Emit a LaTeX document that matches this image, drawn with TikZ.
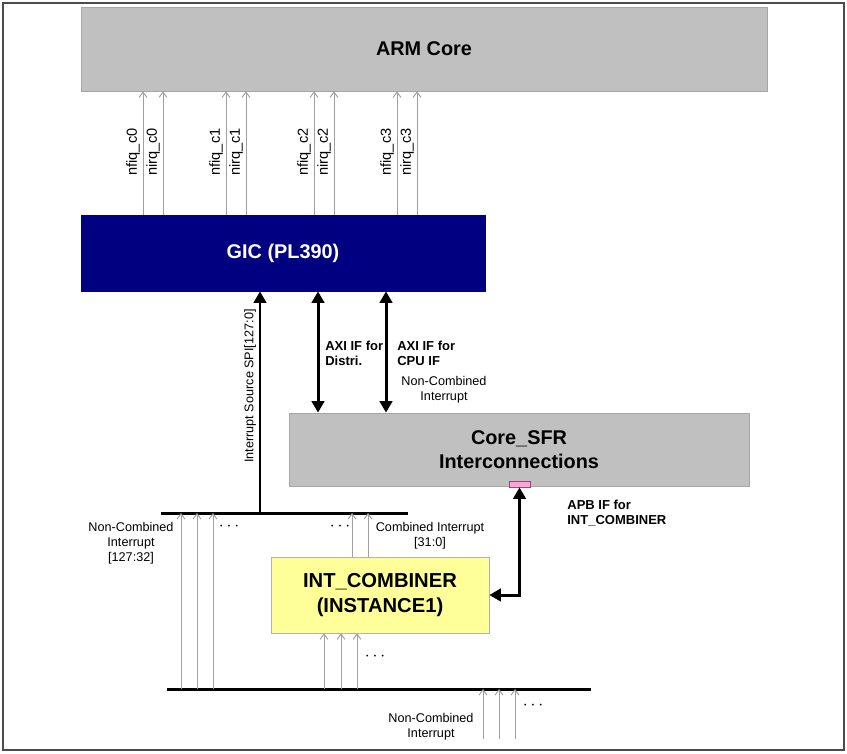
\documentclass[tikz,border=0pt]{standalone}
\usepackage{fontspec}
\setmainfont{Liberation Sans}
\usetikzlibrary{arrows.meta}
\definecolor{boxgray}{HTML}{C0C0C0}
\definecolor{boxedge}{HTML}{A6A6A6}
\definecolor{gicblue}{HTML}{000080}
\definecolor{combyellow}{HTML}{FFFF99}
\definecolor{wiregray}{HTML}{A0A0A0}
\tikzset{
	blk/.style={draw=boxedge, fill=boxgray, inner sep=0pt, align=center,
		font=\bfseries\fontsize{11.3}{13.5}\selectfont},
	sig/.style={draw=wiregray, line width=0.55pt, -{Straight Barb[length=3pt,width=4.5pt]}},
	bus/.style={line width=1.7pt, black},
	fat/.style={line width=1.7pt, -{Triangle[length=6.5pt,width=7pt]}},
	fatboth/.style={line width=1.7pt, {Triangle[length=6.5pt,width=7pt]}-{Triangle[length=6.5pt,width=7pt]}},
	lbl/.style={font=\fontsize{7.2}{8.5}\selectfont, align=center, inner sep=1pt},
	dots/.style={font=\bfseries\fontsize{10}{10}\selectfont, inner sep=0pt},
	pinlbl/.style={font=\fontsize{8.3}{9}\selectfont, inner sep=1.5pt, rotate=90, anchor=south},
	blbl/.style={font=\bfseries\fontsize{7.4}{8.2}\selectfont, align=left, inner sep=0pt, anchor=north west},
}

\begin{document}
\begin{tikzpicture}[x=0.02cm, y=-0.02cm]
	\useasboundingbox (0,0) rectangle (847,753);
	\draw[gray!60!black, line width=0.9pt] (3,3) rectangle (844,750);

	\node[blk, minimum width=13.72cm, minimum height=1.68cm] (arm) at (424,49) {ARM Core};
	\node[blk, draw=gicblue, fill=gicblue, text=white, minimum width=8.08cm, minimum height=1.52cm] (gic) at (283,253) {GIC (PL390)};
	\node[blk, minimum width=9.2cm, minimum height=1.46cm] (sfr) at (519,449.5) {Core\_SFR\\Interconnections};
	\node[blk, draw=gray!60, fill=combyellow, minimum width=4.36cm, minimum height=1.52cm,
		font=\bfseries\fontsize{11.5}{14.5}\selectfont] (comb) at (380,595) {INT\_COMBINER\\(INSTANCE1)};
	\node[draw=magenta!60!black, fill=magenta!35, line width=0.4pt, minimum width=0.42cm, minimum height=0.12cm, inner sep=0pt] (apb) at (519.5,484) {};

	\foreach \x/\t in {143/nfiq\_c0, 163/nirq\_c0, 226/nfiq\_c1, 246/nirq\_c1, 314/nfiq\_c2, 334/nirq\_c2, 397/nfiq\_c3, 417/nirq\_c3} {
		\coordinate (p\x) at (\x,0);
		\draw[sig] (gic.north -| p\x) -- (arm.south -| p\x);
		\node[pinlbl] (l\x) at (\x,152) {\t};
	}

	\coordinate (b1w) at (161,513);
	\coordinate (b1e) at (408,513);
	\coordinate (b2w) at (167,689);
	\coordinate (b2e) at (591,689);
	\draw[bus] (b1w) -- (b1e);
	\draw[bus] (b2w) -- (b2e);

	\coordinate (spi) at (260,513);
	\draw[fat] (spi) -- (spi |- gic.south);
	\node[lbl, rotate=90, anchor=south] (spil) at (258,386) {Interrupt Source SPI[127:0]};

	\coordinate (axd) at (318,0);
	\coordinate (axc) at (386,0);
	\draw[fatboth] (gic.south -| axd) -- (sfr.north -| axd);
	\draw[fatboth] (gic.south -| axc) -- (sfr.north -| axc);
	\node[blbl] (axdl) at (325,341) {AXI IF for\\Distri.};
	\node[blbl] (axcl) at (397,341) {AXI IF for\\CPU IF};
	\node[lbl] (ncmid) at (444,390) {Non-Combined\\Interrupt};

	\draw[fatboth] (apb.south) |- (comb.east);
	\node[blbl] (apbl) at (567,500) {APB IF for\\INT\_COMBINER};

	\foreach \x in {181,197,213}
		\draw[sig] (b2w -| \x,0) -- (b1w -| \x,0);
	\foreach \x in {352,368}
		\draw[sig] (comb.north -| \x,0) -- (b1w -| \x,0);
	\foreach \x in {324,341,357}
		\draw[sig] (b2w -| \x,0) -- (comb.south -| \x,0);
	\foreach \x in {483,499,515}
		\draw[sig] (\x,739) -- (b2w -| \x,0);

	\node[dots] (d1) at (229,527) {$\cdots$};
	\node[dots] (d2) at (340,527) {$\cdots$};
	\node[dots] (d3) at (375,657) {$\cdots$};
	\node[dots] (d4) at (533,706) {$\cdots$};

	\node[lbl] (ncl) at (131,543) {Non-Combined\\Interrupt\\{}[127:32]};
	\node[lbl] (cil) at (430,536) {Combined Interrupt\\{}[31:0]};
	\node[lbl] (ncb) at (431,727) {Non-Combined\\Interrupt};
\end{tikzpicture}
\end{document}
